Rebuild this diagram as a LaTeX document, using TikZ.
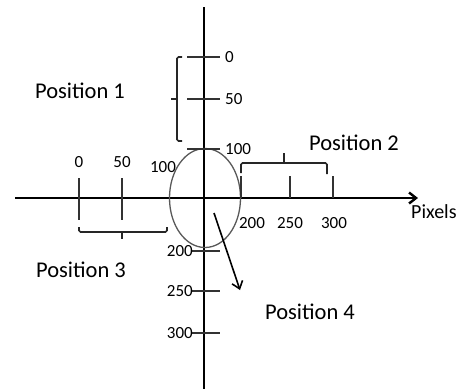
\documentclass[tikz,border=0pt]{standalone}
\usepackage{fontspec}
\setmainfont{Carlito}
\usetikzlibrary{arrows.meta, shapes.geometric, positioning}

\begin{document}
\begin{tikzpicture}[x=1pt, y=-1pt,
	axis/.style={line width=2.4pt, draw=black},
	tick/.style={line width=1.3pt, draw=black!80},
	brace/.style={line width=1.6pt, draw=black!85, rounded corners=1.5pt},
	num/.style={font=\fontsize{17}{17}\selectfont, inner sep=0pt},
	lbl/.style={font=\fontsize{22.5}{22.5}\selectfont, inner sep=0pt},
	arr/.style={-{Straight Barb[length=7pt, width=11pt]}, line width=1.6pt}
	]
\useasboundingbox (0,0) rectangle (464,389);

% Achsen
\coordinate (ytop) at (204,7);
\coordinate (ybot) at (204,389);
\coordinate (xleft) at (15,198);
\coordinate (xright) at (418,198);
\draw[axis] (ytop) -- (ybot);
\draw[axis, arr, line width=2.4pt] (xleft) -- (xright);
\node[lbl, font=\fontsize{20}{20}\selectfont, anchor=west] (pix) at (411,212) {Pixels};

% Bildbereich
\node[draw=black!65, line width=1.3pt, ellipse, minimum width=71pt, minimum height=99pt] (roi) at (205,198) {};

% Skala oben (Position 1)
\foreach \y/\t in {57/0, 99/50, 149/100} {
	\draw[tick] (187,\y) -- (220,\y);
	\node[num, anchor=west] (top\t) at (225,\y) {\t};
}
\draw[brace] (182,57) -- (177,57) -- (177,141) -- (182,141);
\draw[brace] (177,99) -- (171,99);
\node[lbl] (pos1) at (80,91) {Position 1};

% Skala links (Position 3)
\foreach \x/\t in {79/0, 122/50} {
	\draw[tick] (\x,178) -- (\x,220);
	\node[num] (left\t) at (\x,162) {\t};
}
\node[num] (left100) at (163,167) {100};
\draw[brace] (79,227) -- (79,232) -- (167,232) -- (167,227);
\draw[brace] (122,232) -- (122,239);
\node[lbl] (pos3) at (81,270) {Position 3};

% Skala rechts (Position 2)
\foreach \x/\lx/\t in {241/252/200, 290/290/250, 333/334/300} {
	\draw[tick] (\x,176) -- (\x,198);
	\node[num] (right\t) at (\lx,223) {\t};
}
\draw[brace] (241,173) -- (241,163) -- (327,163) -- (327,174);
\draw[brace] (284,163) -- (284,153);
\node[lbl] (pos2) at (354,143) {Position 2};

% Skala unten (Position 4)
\foreach \y/\t in {251/200, 291/250, 333/300} {
	\draw[tick] (192,\y) -- (220,\y);
	\node[num, anchor=east] (bot\t) at (193,\y) {\t};
}
\coordinate (mv0) at (214,213);
\coordinate (mv1) at (240,290);
\draw[arr] (mv0) -- (mv1);
\node[lbl] (pos4) at (310,312) {Position 4};

\end{tikzpicture}
\end{document}
